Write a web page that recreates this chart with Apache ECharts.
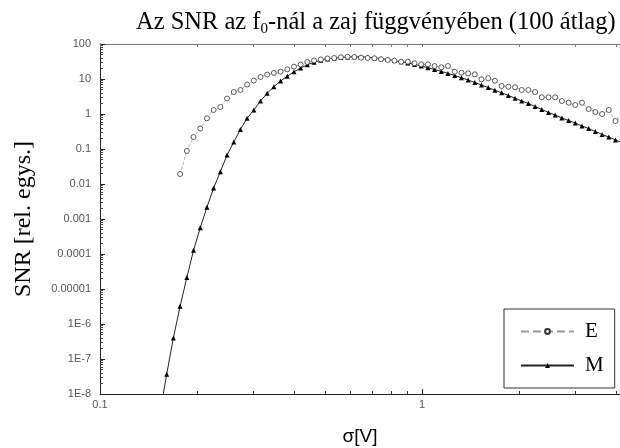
<!DOCTYPE html>
<html><head><meta charset="utf-8">
<script src="https://cdn.jsdelivr.net/npm/echarts@6/dist/echarts.min.js"></script>
<style>html,body{margin:0;padding:0;background:#fff}#c{width:620px;height:448px}</style>
</head><body><div id="c"></div>
<script>
// sigma [V] values for the M series
var xM = [0.1536,0.1611,0.1690,0.1773,0.1861,0.1952,0.2048,0.2148,0.2254,0.2365,0.2481,0.2603,0.2729,0.2863,0.3004,0.3151,0.3306,0.3467,0.3638,0.3816,0.4003,0.4200,0.4406,0.4622,0.4850,0.5087,0.5337,0.5598,0.5873,0.6162,0.6463,0.6781,0.7112,0.7461,0.7828,0.8212,0.8614,0.9036,0.9480,0.9945,1.043,1.094,1.148,1.204,1.264,1.326,1.391,1.459,1.530,1.606,1.684,1.767,1.854,1.945,2.040,2.140,2.245,2.355,2.471,2.592,2.719,2.853,2.992,3.140,3.293,3.455,3.625,3.802,3.989,4.184];
var yM = [2.9e-9,3.66e-8,4.0e-7,3.2e-6,2.13e-5,1.28e-4,5.6e-4,2.16e-3,7.7e-3,0.0225,0.0674,0.158,0.361,0.754,1.30,2.35,3.90,6.03,8.77,12.0,16.0,20.6,25.6,30.2,34.2,37.3,39.5,41.1,42.5,43.1,42.8,42.0,40.3,38.3,36.1,33.8,31.2,28.7,26.1,23.5,21.0,18.7,16.5,14.4,12.6,10.9,9.36,7.94,6.74,5.68,4.79,4.03,3.38,2.83,2.35,2.0,1.64,1.35,1.10,0.936,0.769,0.652,0.553,0.454,0.385,0.316,0.26,0.22,0.181,0.153];
// sigma [V] values for the E series
var xE = [0.1773,0.1861,0.1952,0.2048,0.2148,0.2254,0.2365,0.2481,0.2603,0.2729,0.2863,0.3004,0.3151,0.3306,0.3467,0.3638,0.3816,0.4003,0.4200,0.4406,0.4622,0.4850,0.5087,0.5337,0.5598,0.5873,0.6162,0.6463,0.6781,0.7112,0.7461,0.7828,0.8212,0.8614,0.9036,0.9480,0.9945,1.043,1.094,1.148,1.204,1.264,1.326,1.391,1.459,1.530,1.606,1.684,1.767,1.854,1.945,2.040,2.140,2.245,2.355,2.471,2.592,2.719,2.853,2.992,3.140,3.293,3.455,3.625,3.802,3.989,4.184];
var yE = [0.0193,0.0877,0.22,0.385,0.754,1.30,1.58,2.77,4.25,4.85,6.96,9.06,11.4,13.4,14.8,16.2,18.9,22.5,25.9,30.6,33.8,36.1,38.5,39.8,41.7,43.1,42.5,40.6,40.0,39.0,36.6,35.0,33.3,31.2,31.2,28.1,26.3,26.3,23.5,21.6,23.5,16.2,15.1,14.5,13.6,9.8,10.5,8.94,6.31,6.03,5.79,4.85,4.85,4.25,3.0,3.0,3.0,2.35,2.1,1.81,2.1,1.39,1.14,1.0,1.30,0.63,0.936];
var seriesNames = ['E','M'];
var yTickValues = [1e-8,1e-7,1e-6,1e-5,1e-4,1e-3,0.01,0.1,1,10,100];
var yTickLabels = ['1E-8','1E-7','1E-6','0.00001','0.0001','0.001','0.01','0.1','1','10','100'];
var yMinorValues = [];
[1e-8,1e-7,1e-6,1e-5,1e-4,1e-3,0.01,0.1,1,10].forEach(function(d){for(var m=2;m<=9;m++)yMinorValues.push(d*m);});
var xTickValues = [0.1,1];
var xTickLabels = ['0.1','1'];
var xMinorValues = [0.2,0.3,0.4,0.5,0.6,0.7,0.8,0.9,2,3,4];
var titleText = 'Az SNR az f';
var titleSub = '0';
var titleRest = '-nál a zaj függvényében (100 átlag)';
var xName = 'σ[V]';
var yName = 'SNR [rel. egys.]';

var XMIN=0.1, XMAX=4.12, YMIN=1e-8, YMAX=100;
var serif = '"Liberation Serif","DejaVu Serif",serif';
var sans = '"Liberation Sans",Arial,sans-serif';
function zip(a,b){return a.map(function(v,i){return [v,b[i]];});}
function baseX(pos,extra){
  return Object.assign({type:'log',logBase:10,min:XMIN,max:XMAX,position:pos,
    axisLine:{show:false,onZero:false},splitLine:{show:false},axisLabel:{show:false},
    axisTick:{show:false}},extra);
}
function baseY(extra){
  return Object.assign({type:'log',logBase:10,min:YMIN,max:YMAX,position:'left',
    axisLine:{show:false,onZero:false},splitLine:{show:false},axisLabel:{show:false},
    axisTick:{show:false}},extra);
}
var chart = echarts.init(document.getElementById('c'),null,{renderer:'canvas'});
chart.setOption({
  animation:false,
  backgroundColor:'#fff',
  title:{
    text:'{a|'+titleText+'}{s|'+titleSub+'}{a|'+titleRest+'}',
    left:131, top:4,
    textStyle:{fontWeight:'normal',rich:{
      a:{fontFamily:serif,fontSize:24.5,fontWeight:'normal',color:'#000',lineHeight:28,verticalAlign:'middle'},
      s:{fontFamily:serif,fontSize:15,fontWeight:'normal',color:'#000',lineHeight:28,verticalAlign:'bottom'}
    }}
  },
  grid:{left:100,right:0,top:44,bottom:54,containLabel:false,outerBoundsMode:'none'},
  xAxis:[
    baseX('bottom',{axisLine:{show:true,onZero:false,lineStyle:{color:'#222',width:1}},
      axisTick:{show:true,inside:true,length:5,customValues:xTickValues,lineStyle:{color:'#222'}},
      axisLabel:{show:true,customValues:xTickValues,margin:5,color:'#555',fontFamily:sans,fontSize:11,
        formatter:function(v){var i=Math.round(Math.log10(v))+1;return xTickLabels[i];}},
      name:xName,nameLocation:'middle',nameGap:33,
      nameTextStyle:{fontFamily:sans,fontSize:19,color:'#000'}}),
    baseX('bottom',{axisTick:{show:true,inside:true,length:3,customValues:xMinorValues,lineStyle:{color:'#333'}}}),
    baseX('top',{axisLine:{show:true,onZero:false,lineStyle:{color:'#777',width:1}},
      axisTick:{show:true,inside:true,length:3,customValues:xMinorValues.concat(xTickValues),lineStyle:{color:'#777'}}})
  ],
  yAxis:[
    baseY({axisLine:{show:true,onZero:false,lineStyle:{color:'#222',width:1}},
      axisTick:{show:true,inside:true,length:5,customValues:yTickValues,lineStyle:{color:'#222'}},
      axisLabel:{show:true,customValues:yTickValues,margin:9,color:'#555',fontFamily:sans,fontSize:11,
        formatter:function(v){var i=Math.round(Math.log10(v))+8;return yTickLabels[i];}},
      name:yName,nameLocation:'middle',nameGap:64,nameRotate:90,
      nameTextStyle:{fontFamily:serif,fontSize:24,color:'#000'}}),
    baseY({axisTick:{show:true,inside:true,length:3,customValues:yMinorValues,lineStyle:{color:'#444'}}})
  ],
  legend:{
    data:seriesNames, orient:'vertical', left:504, top:309,
    padding:[12,11,12,16], itemGap:13, itemWidth:53, itemHeight:6,
    backgroundColor:'#fff', borderColor:'#333', borderWidth:1, borderRadius:0,
    textStyle:{fontFamily:serif,fontSize:21,color:'#000',padding:[0,0,0,6],lineHeight:18}
  },
  series:[
    {name:'E',type:'line',xAxisIndex:0,yAxisIndex:0,data:zip(xE,yE),
     symbol:'circle',symbolSize:5,showAllSymbol:true,
     itemStyle:{color:'#fff',borderColor:'#333',borderWidth:0.8},
     lineStyle:{color:'#999',width:0.8,type:'dashed'},z:3},
    {name:'M',type:'line',xAxisIndex:0,yAxisIndex:0,data:zip(xM,yM),
     symbol:'triangle',symbolSize:5,showAllSymbol:true,
     itemStyle:{color:'#000'},
     lineStyle:{color:'#222',width:1},z:2}
  ]
});
</script></body></html>
